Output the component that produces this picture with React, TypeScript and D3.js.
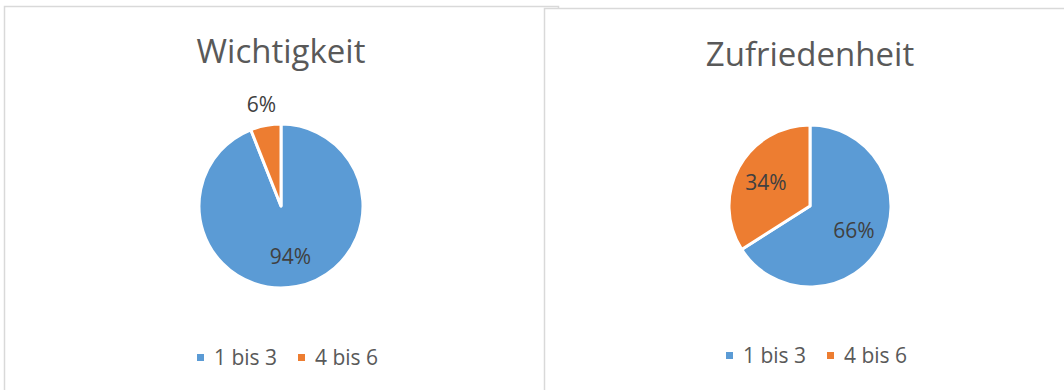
import React from "react";
import * as d3 from "d3";

// Survey answers grouped into two rating bands
const categories = ["1 bis 3", "4 bis 6"];
const chartTitles = ["Wichtigkeit", "Zufriedenheit"];
const wichtigkeitValues = [94, 6];
const zufriedenheitValues = [66, 34];

const colors = ["#5B9BD5", "#ED7D31"];
const FONT = "'Open Sans', 'Noto Sans', sans-serif";

type PanelProps = {
  title: string;
  values: number[];
  x: number;
  y: number;
  w: number;
  cx: number;
  cy: number;
  r: number;
  titleY: number;
  legendY: number;
};

function PiePanel({ title, values, x, y, w, cx, cy, r, titleY, legendY }: PanelProps) {
  const pie = d3.pie<number>().sort(null).value((d) => d);
  const arcs = pie(values);
  const arc = d3.arc<d3.PieArcDatum<number>>().innerRadius(0).outerRadius(r);
  const total = d3.sum(values);

  // label position: inside slices at ~0.6r, small slices outside the pie
  const labelPos = (a: d3.PieArcDatum<number>) => {
    const share = a.value / total;
    const mid = (a.startAngle + a.endAngle) / 2;
    const rr = share < 0.1 ? r + 22 : r * 0.62;
    return [cx + Math.sin(mid) * rr, cy - Math.cos(mid) * rr];
  };

  // legend layout
  const itemW = 101;
  const legendX = cx - 84;

  return (
    <g>
      <rect x={x} y={y} width={w} height={500} fill="#fff" stroke="#d9d9d9" strokeWidth={1.5} />
      <text x={cx} y={titleY} textAnchor="middle" fontFamily={FONT} fontSize={33} fill="#595959">
        {title}
      </text>
      <g>
        {arcs.map((a, i) => (
          <path
            key={i}
            d={arc(a) as string}
            transform={`translate(${cx},${cy})`}
            fill={colors[i]}
            stroke="#fff"
            strokeWidth={3}
            strokeLinejoin="round"
          />
        ))}
        {arcs.map((a, i) => {
          const [lx, ly] = labelPos(a);
          return (
            <text
              key={i}
              x={lx}
              y={ly}
              textAnchor="middle"
              dominantBaseline="central"
              fontFamily={FONT}
              fontSize={21}
              fill="#404040"
            >
              {Math.round((a.value / total) * 100)}%
            </text>
          );
        })}
      </g>
      <g>
        {categories.map((c, i) => (
          <g key={c} transform={`translate(${legendX + i * itemW},${legendY})`}>
            <rect x={0} y={-11} width={7} height={7} fill={colors[i]} />
            <text x={17} y={0} fontFamily={FONT} fontSize={21} fill="#595959">
              {c}
            </text>
          </g>
        ))}
      </g>
    </g>
  );
}

export default function App() {
  return (
    <svg
      width={1064}
      height={390}
      style={{ position: "absolute", left: 0, top: 0, background: "#fff" }}
    >
      <PiePanel
        title={chartTitles[0]}
        values={wichtigkeitValues}
        x={4.5}
        y={6.5}
        w={554}
        cx={281}
        cy={206}
        r={82}
        titleY={63}
        legendY={365}
      />
      <PiePanel
        title={chartTitles[1]}
        values={zufriedenheitValues}
        x={544.5}
        y={8.5}
        w={560}
        cx={810}
        cy={206}
        r={81}
        titleY={66}
        legendY={363}
      />
    </svg>
  );
}
